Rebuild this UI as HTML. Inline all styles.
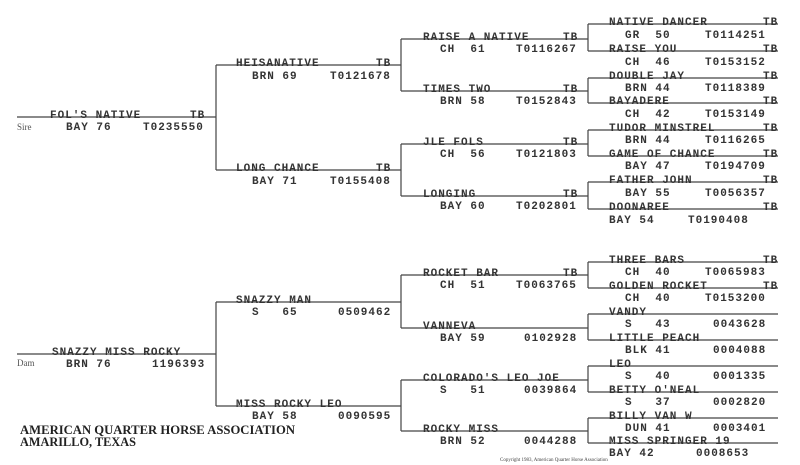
<!DOCTYPE html>
<html><head><meta charset="utf-8"><style>
html,body{margin:0;padding:0;background:#fff;}
svg{display:block}
text{white-space:pre}
text.m{font-family:"Liberation Mono",monospace;font-size:11px;letter-spacing:1px;fill:#333;font-weight:bold}
text.s{font-family:"Liberation Serif",serif;font-size:9px;fill:#555}
text.f{font-family:"Liberation Serif",serif;font-size:12.5px;font-weight:bold;fill:#222}
</style></head><body>
<svg width="800" height="465" viewBox="0 0 800 465" xmlns="http://www.w3.org/2000/svg" xml:space="preserve">
<g stroke="#444" stroke-width="1.2" fill="none">
<path d="M17 117H216M216 65V170M216 65H401M216 170H401"/>
<path d="M401 39V91M401 39H588M401 91H588M401 144V196M401 144H588M401 196H588"/>
<path d="M588 24V51M588 24H778M588 51H778M588 78V103M588 78H778M588 103H778"/>
<path d="M588 130V156M588 130H778M588 156H778M588 182V209M588 182H778M588 209H778"/>
<path d="M17 354H216M216 302V406M216 302H401M216 406H401"/>
<path d="M401 275V328M401 275H588M401 328H588M401 380V431M401 380H588M401 431H588"/>
<path d="M588 262V288M588 262H778M588 288H778M588 314V340M588 314H778M588 340H778"/>
<path d="M588 366V392M588 366H778M588 392H778M588 418V443M588 418H778M588 443H778"/>
</g>
<g>
<text class="s" x="17" y="130">Sire</text>
<text class="m" x="50" y="118">FOL'S NATIVE</text><text class="m" x="190" y="118">TB</text>
<text class="m" x="66" y="130">BAY 76</text><text class="m" x="143" y="130">T0235550</text>

<text class="m" x="236" y="66">HEISANATIVE</text><text class="m" x="376" y="66">TB</text>
<text class="m" x="252" y="79">BRN 69</text><text class="m" x="330" y="79">T0121678</text>
<text class="m" x="236" y="171">LONG CHANCE</text><text class="m" x="376" y="171">TB</text>
<text class="m" x="252" y="184">BAY 71</text><text class="m" x="330" y="184">T0155408</text>

<text class="m" x="423" y="40">RAISE A NATIVE</text><text class="m" x="563" y="40">TB</text>
<text class="m" x="440" y="52">CH  61</text><text class="m" x="516" y="52">T0116267</text>
<text class="m" x="423" y="92">TIMES TWO</text><text class="m" x="563" y="92">TB</text>
<text class="m" x="440" y="104">BRN 58</text><text class="m" x="516" y="104">T0152843</text>
<text class="m" x="423" y="145">JLE FOLS</text><text class="m" x="563" y="145">TB</text>
<text class="m" x="440" y="157">CH  56</text><text class="m" x="516" y="157">T0121803</text>
<text class="m" x="423" y="197">LONGING</text><text class="m" x="563" y="197">TB</text>
<text class="m" x="440" y="209">BAY 60</text><text class="m" x="516" y="209">T0202801</text>

<text class="m" x="609" y="25">NATIVE DANCER</text><text class="m" x="763" y="25">TB</text>
<text class="m" x="625" y="38">GR  50</text><text class="m" x="705" y="38">T0114251</text>
<text class="m" x="609" y="52">RAISE YOU</text><text class="m" x="763" y="52">TB</text>
<text class="m" x="625" y="65">CH  46</text><text class="m" x="705" y="65">T0153152</text>
<text class="m" x="609" y="79">DOUBLE JAY</text><text class="m" x="763" y="79">TB</text>
<text class="m" x="625" y="91">BRN 44</text><text class="m" x="705" y="91">T0118389</text>
<text class="m" x="609" y="104">BAYADERE</text><text class="m" x="763" y="104">TB</text>
<text class="m" x="625" y="117">CH  42</text><text class="m" x="705" y="117">T0153149</text>
<text class="m" x="609" y="131">TUDOR MINSTREL</text><text class="m" x="763" y="131">TB</text>
<text class="m" x="625" y="143">BRN 44</text><text class="m" x="705" y="143">T0116265</text>
<text class="m" x="609" y="157">GAME OF CHANCE</text><text class="m" x="763" y="157">TB</text>
<text class="m" x="625" y="169">BAY 47</text><text class="m" x="705" y="169">T0194709</text>
<text class="m" x="609" y="183">FATHER JOHN</text><text class="m" x="763" y="183">TB</text>
<text class="m" x="625" y="196">BAY 55</text><text class="m" x="705" y="196">T0056357</text>
<text class="m" x="609" y="210">DOONAREE</text><text class="m" x="763" y="210">TB</text>
<text class="m" x="609" y="223">BAY 54</text><text class="m" x="688" y="223">T0190408</text>

<text class="s" x="17" y="366">Dam</text>
<text class="m" x="52" y="355">SNAZZY MISS ROCKY</text>
<text class="m" x="66" y="367">BRN 76</text><text class="m" x="152" y="367">1196393</text>

<text class="m" x="236" y="303">SNAZZY MAN</text>
<text class="m" x="252" y="315">S   65</text><text class="m" x="338" y="315">0509462</text>
<text class="m" x="236" y="407">MISS ROCKY LEO</text>
<text class="m" x="252" y="419">BAY 58</text><text class="m" x="338" y="419">0090595</text>

<text class="m" x="423" y="276">ROCKET BAR</text><text class="m" x="563" y="276">TB</text>
<text class="m" x="440" y="288">CH  51</text><text class="m" x="516" y="288">T0063765</text>
<text class="m" x="423" y="329">VANNEVA</text>
<text class="m" x="440" y="341">BAY 59</text><text class="m" x="524" y="341">0102928</text>
<text class="m" x="423" y="381">COLORADO'S LEO JOE</text>
<text class="m" x="440" y="393">S   51</text><text class="m" x="524" y="393">0039864</text>
<text class="m" x="423" y="432">ROCKY MISS</text>
<text class="m" x="440" y="444">BRN 52</text><text class="m" x="524" y="444">0044288</text>

<text class="m" x="609" y="263">THREE BARS</text><text class="m" x="763" y="263">TB</text>
<text class="m" x="625" y="275">CH  40</text><text class="m" x="705" y="275">T0065983</text>
<text class="m" x="609" y="289">GOLDEN ROCKET</text><text class="m" x="763" y="289">TB</text>
<text class="m" x="625" y="301">CH  40</text><text class="m" x="705" y="301">T0153200</text>
<text class="m" x="609" y="315">VANDY</text>
<text class="m" x="625" y="327">S   43</text><text class="m" x="713" y="327">0043628</text>
<text class="m" x="609" y="341">LITTLE PEACH</text>
<text class="m" x="625" y="353">BLK 41</text><text class="m" x="713" y="353">0004088</text>
<text class="m" x="609" y="367">LEO</text>
<text class="m" x="625" y="379">S   40</text><text class="m" x="713" y="379">0001335</text>
<text class="m" x="609" y="393">BETTY O'NEAL</text>
<text class="m" x="625" y="405">S   37</text><text class="m" x="713" y="405">0002820</text>
<text class="m" x="609" y="419">BILLY VAN W</text>
<text class="m" x="625" y="431">DUN 41</text><text class="m" x="713" y="431">0003401</text>
<text class="m" x="609" y="444">MISS SPRINGER 19</text>
<text class="m" x="609" y="456">BAY 42</text><text class="m" x="696" y="456">0008653</text>

<text class="f" x="20" y="434" textLength="275" lengthAdjust="spacingAndGlyphs">AMERICAN QUARTER HORSE ASSOCIATION</text>
<text class="f" x="20" y="446" textLength="116" lengthAdjust="spacingAndGlyphs">AMARILLO, TEXAS</text>
<text x="500" y="461" style="font-family:'Liberation Serif',serif;font-size:5px;fill:#444">Copyright 1983, American Quarter Horse Association</text>
</g>
</svg>
</body></html>
